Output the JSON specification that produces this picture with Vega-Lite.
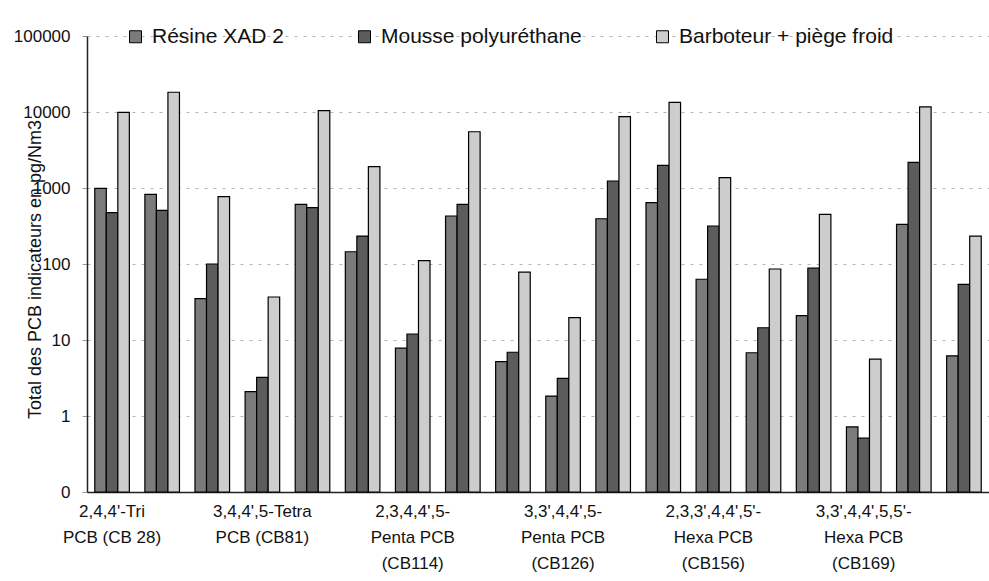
{
  "$schema": "https://vega.github.io/schema/vega-lite/v6.json",
  "autosize": {"type": "none"},
  "width": 902,
  "height": 456,
  "padding": {"left": 87, "top": 36, "right": 0, "bottom": 89},
  "background": "white",
  "config": {
    "font": "Liberation Sans",
    "view": {"stroke": null}
  },
  "data": {
    "values": [
      {"g": "2,4,4'-Tri|PCB (CB 28)", "s": "Résine XAD 2", "v": 990},
      {"g": "2,4,4'-Tri|PCB (CB 28)", "s": "Mousse polyuréthane", "v": 473},
      {"g": "2,4,4'-Tri|PCB (CB 28)", "s": "Barboteur + piège froid", "v": 9900},
      {"g": "CB28 b", "s": "Résine XAD 2", "v": 826},
      {"g": "CB28 b", "s": "Mousse polyuréthane", "v": 509},
      {"g": "CB28 b", "s": "Barboteur + piège froid", "v": 18200},
      {"g": "CB28 c", "s": "Résine XAD 2", "v": 35},
      {"g": "CB28 c", "s": "Mousse polyuréthane", "v": 100},
      {"g": "CB28 c", "s": "Barboteur + piège froid", "v": 769},
      {"g": "3,4,4',5-Tetra|PCB (CB81)", "s": "Résine XAD 2", "v": 2.09},
      {"g": "3,4,4',5-Tetra|PCB (CB81)", "s": "Mousse polyuréthane", "v": 3.23},
      {"g": "3,4,4',5-Tetra|PCB (CB81)", "s": "Barboteur + piège froid", "v": 36.8},
      {"g": "CB81 b", "s": "Résine XAD 2", "v": 610},
      {"g": "CB81 b", "s": "Mousse polyuréthane", "v": 551},
      {"g": "CB81 b", "s": "Barboteur + piège froid", "v": 10400},
      {"g": "CB81 c", "s": "Résine XAD 2", "v": 145},
      {"g": "CB81 c", "s": "Mousse polyuréthane", "v": 233},
      {"g": "CB81 c", "s": "Barboteur + piège froid", "v": 1908},
      {"g": "2,3,4,4',5-|Penta PCB|(CB114)", "s": "Résine XAD 2", "v": 7.8},
      {"g": "2,3,4,4',5-|Penta PCB|(CB114)", "s": "Mousse polyuréthane", "v": 12},
      {"g": "2,3,4,4',5-|Penta PCB|(CB114)", "s": "Barboteur + piège froid", "v": 111},
      {"g": "CB114 b", "s": "Résine XAD 2", "v": 428},
      {"g": "CB114 b", "s": "Mousse polyuréthane", "v": 610},
      {"g": "CB114 b", "s": "Barboteur + piège froid", "v": 5500},
      {"g": "CB114 c", "s": "Résine XAD 2", "v": 5.2},
      {"g": "CB114 c", "s": "Mousse polyuréthane", "v": 6.9},
      {"g": "CB114 c", "s": "Barboteur + piège froid", "v": 78},
      {"g": "3,3',4,4',5-|Penta PCB|(CB126)", "s": "Résine XAD 2", "v": 1.83},
      {"g": "3,3',4,4',5-|Penta PCB|(CB126)", "s": "Mousse polyuréthane", "v": 3.13},
      {"g": "3,3',4,4',5-|Penta PCB|(CB126)", "s": "Barboteur + piège froid", "v": 19.7},
      {"g": "CB126 b", "s": "Résine XAD 2", "v": 394},
      {"g": "CB126 b", "s": "Mousse polyuréthane", "v": 1237},
      {"g": "CB126 b", "s": "Barboteur + piège froid", "v": 8690},
      {"g": "CB126 c", "s": "Résine XAD 2", "v": 641},
      {"g": "CB126 c", "s": "Mousse polyuréthane", "v": 1987},
      {"g": "CB126 c", "s": "Barboteur + piège froid", "v": 13400},
      {"g": "2,3,3',4,4',5'-|Hexa PCB|(CB156)", "s": "Résine XAD 2", "v": 63},
      {"g": "2,3,3',4,4',5'-|Hexa PCB|(CB156)", "s": "Mousse polyuréthane", "v": 316},
      {"g": "2,3,3',4,4',5'-|Hexa PCB|(CB156)", "s": "Barboteur + piège froid", "v": 1368},
      {"g": "CB156 b", "s": "Résine XAD 2", "v": 6.8},
      {"g": "CB156 b", "s": "Mousse polyuréthane", "v": 14.5},
      {"g": "CB156 b", "s": "Barboteur + piège froid", "v": 86},
      {"g": "CB156 c", "s": "Résine XAD 2", "v": 20.9},
      {"g": "CB156 c", "s": "Mousse polyuréthane", "v": 88},
      {"g": "CB156 c", "s": "Barboteur + piège froid", "v": 450},
      {"g": "3,3',4,4',5,5'-|Hexa PCB|(CB169)", "s": "Résine XAD 2", "v": 0.72},
      {"g": "3,3',4,4',5,5'-|Hexa PCB|(CB169)", "s": "Mousse polyuréthane", "v": 0.51},
      {"g": "3,3',4,4',5,5'-|Hexa PCB|(CB169)", "s": "Barboteur + piège froid", "v": 5.6},
      {"g": "CB169 b", "s": "Résine XAD 2", "v": 333},
      {"g": "CB169 b", "s": "Mousse polyuréthane", "v": 2180},
      {"g": "CB169 b", "s": "Barboteur + piège froid", "v": 11700},
      {"g": "CB169 c", "s": "Résine XAD 2", "v": 6.2},
      {"g": "CB169 c", "s": "Mousse polyuréthane", "v": 54},
      {"g": "CB169 c", "s": "Barboteur + piège froid", "v": 233}
    ]
  },
  "mark": {"type": "bar", "stroke": "black", "strokeWidth": 1.2},
  "encoding": {
    "x": {
      "field": "g",
      "type": "nominal",
      "sort": null,
      "scale": {"paddingInner": 0.31, "paddingOuter": 0.155},
      "axis": {
        "title": null,
        "labelAngle": 0,
        "labelExpr": "indexof(datum.value, '|') >= 0 ? split(datum.value, '|') : ''",
        "labelFontSize": 17,
        "labelLineHeight": 26,
        "labelPadding": 11,
        "labelOverlap": false,
        "labelBound": false,
        "labelColor": "#111111",
        "ticks": false,
        "domainColor": "#222222",
        "domainWidth": 1.5
      }
    },
    "xOffset": {
      "field": "s",
      "type": "nominal",
      "sort": ["Résine XAD 2", "Mousse polyuréthane", "Barboteur + piège froid"]
    },
    "y": {
      "field": "v",
      "type": "quantitative",
      "scale": {"type": "log", "domain": [0.1, 100000]},
      "axis": {
        "title": "Total des PCB indicateurs en pg/Nm3",
        "titleFontSize": 18,
        "titleFontWeight": "normal",
        "titleColor": "#111111",
        "titleX": -47,
        "titleY": 233,
        "titleAlign": "center",
        "titleBaseline": "alphabetic",
        "titleAngle": -90,
        "values": [0.1, 1, 10, 100, 1000, 10000, 100000],
        "labelExpr": "datum.value < 1 ? '0' : format(datum.value, 'd')",
        "labelFontSize": 17,
        "labelColor": "#111111",
        "labelPadding": 12,
        "tickSize": 5,
        "tickColor": "#999999",
        "domainColor": "#222222",
        "domainWidth": 1.5,
        "grid": true,
        "gridColor": "#b5b5b5",
        "gridDash": [3, 6],
        "gridWidth": 1
      }
    },
    "y2": {"datum": 0.1},
    "color": {
      "field": "s",
      "type": "nominal",
      "scale": {
        "domain": ["Résine XAD 2", "Mousse polyuréthane", "Barboteur + piège froid"],
        "range": ["#7b7b7b", "#5c5c5c", "#cdcdcd"]
      },
      "legend": {
        "title": null,
        "orient": "none",
        "direction": "horizontal",
        "legendX": 38,
        "legendY": -10,
        "symbolType": "square",
        "symbolSize": 144,
        "symbolStrokeColor": "black",
        "symbolStrokeWidth": 1,
        "labelFontSize": 21,
        "labelColor": "#111111",
        "labelOffset": 6,
        "columnPadding": 70,
        "labelLimit": 400
      }
    }
  }
}
